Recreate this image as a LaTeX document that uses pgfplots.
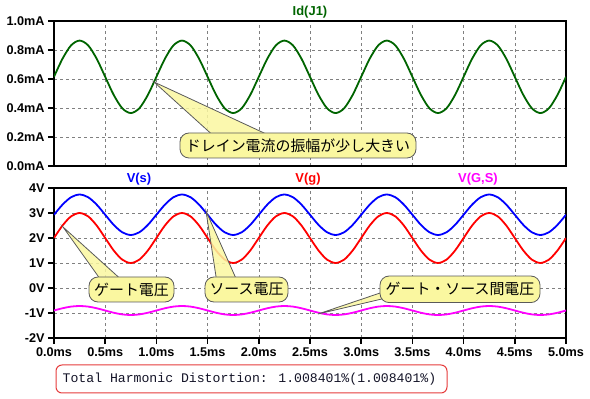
\documentclass[border=0pt]{standalone}
\usepackage{pgfplots}
\pgfplotsset{compat=1.18}
\usepackage{pgfplotstable}
\usepackage{fontspec}
\setmainfont{Liberation Sans}
\newfontfamily\jp{Noto Sans CJK JP}
\newfontfamily\mono{Liberation Mono}
\definecolor{idgreen}{RGB}{0,100,0}
\definecolor{vsblue}{RGB}{0,0,255}
\definecolor{vgred}{RGB}{255,0,0}
\definecolor{vgsmag}{RGB}{255,0,255}
\definecolor{callfill}{RGB}{250,247,160}
\definecolor{callline}{RGB}{90,90,90}
\definecolor{thdred}{RGB}{230,60,60}
\definecolor{thdtext}{RGB}{20,20,40}

\pgfplotstableread{
t id vs vg vgs
0.0000 0.615 2.930 2.000 -0.900
0.0833 0.740 3.335 2.500 -0.810
0.1667 0.832 3.631 2.866 -0.744
0.2500 0.865 3.740 3.000 -0.720
0.3333 0.832 3.631 2.866 -0.744
0.4167 0.740 3.335 2.500 -0.810
0.5000 0.615 2.930 2.000 -0.900
0.5833 0.490 2.525 1.500 -0.990
0.6667 0.398 2.229 1.134 -1.056
0.7500 0.365 2.120 1.000 -1.080
0.8333 0.398 2.229 1.134 -1.056
0.9167 0.490 2.525 1.500 -0.990
1.0000 0.615 2.930 2.000 -0.900
1.0833 0.740 3.335 2.500 -0.810
1.1667 0.832 3.631 2.866 -0.744
1.2500 0.865 3.740 3.000 -0.720
1.3333 0.832 3.631 2.866 -0.744
1.4167 0.740 3.335 2.500 -0.810
1.5000 0.615 2.930 2.000 -0.900
1.5833 0.490 2.525 1.500 -0.990
1.6667 0.398 2.229 1.134 -1.056
1.7500 0.365 2.120 1.000 -1.080
1.8333 0.398 2.229 1.134 -1.056
1.9167 0.490 2.525 1.500 -0.990
2.0000 0.615 2.930 2.000 -0.900
2.0833 0.740 3.335 2.500 -0.810
2.1667 0.832 3.631 2.866 -0.744
2.2500 0.865 3.740 3.000 -0.720
2.3333 0.832 3.631 2.866 -0.744
2.4167 0.740 3.335 2.500 -0.810
2.5000 0.615 2.930 2.000 -0.900
2.5833 0.490 2.525 1.500 -0.990
2.6667 0.398 2.229 1.134 -1.056
2.7500 0.365 2.120 1.000 -1.080
2.8333 0.398 2.229 1.134 -1.056
2.9167 0.490 2.525 1.500 -0.990
3.0000 0.615 2.930 2.000 -0.900
3.0833 0.740 3.335 2.500 -0.810
3.1667 0.832 3.631 2.866 -0.744
3.2500 0.865 3.740 3.000 -0.720
3.3333 0.832 3.631 2.866 -0.744
3.4167 0.740 3.335 2.500 -0.810
3.5000 0.615 2.930 2.000 -0.900
3.5833 0.490 2.525 1.500 -0.990
3.6667 0.398 2.229 1.134 -1.056
3.7500 0.365 2.120 1.000 -1.080
3.8333 0.398 2.229 1.134 -1.056
3.9167 0.490 2.525 1.500 -0.990
4.0000 0.615 2.930 2.000 -0.900
4.0833 0.740 3.335 2.500 -0.810
4.1667 0.832 3.631 2.866 -0.744
4.2500 0.865 3.740 3.000 -0.720
4.3333 0.832 3.631 2.866 -0.744
4.4167 0.740 3.335 2.500 -0.810
4.5000 0.615 2.930 2.000 -0.900
4.5833 0.490 2.525 1.500 -0.990
4.6667 0.398 2.229 1.134 -1.056
4.7500 0.365 2.120 1.000 -1.080
4.8333 0.398 2.229 1.134 -1.056
4.9167 0.490 2.525 1.500 -0.990
5.0000 0.615 2.930 2.000 -0.900
}\wave

\pgfplotsset{
  ltstyle/.style={
    scale only axis, width=512bp,
    anchor=south west,
    xmin=0, xmax=5,
    xtick={0,0.5,1,1.5,2,2.5,3,3.5,4,4.5,5},
    grid=major,
    major grid style={draw=gray, line width=0.6bp, dash pattern=on 3bp off 3bp},
    axis line style={line width=2bp, black},
    tick align=outside,
    major tick length=6bp,
    tick style={black, line width=1.5bp},
    xtick pos=bottom, ytick pos=left,
    tick label style={font=\fontsize{12.7}{14}\selectfont\bfseries},
    every axis plot/.append style={line width=1.8bp, smooth},
  }
}

\tikzset{callbox/.style={draw=callline, line width=0.8bp, fill=callfill,
    rounded corners=9bp, minimum height=25bp, inner sep=0pt,
    font=\jp\fontsize{15}{17}\selectfont}}
\tikzset{calltri/.style={draw=callline, line width=0.8bp, fill=callfill, fill opacity=0.85}}

\begin{document}
\begin{tikzpicture}
\useasboundingbox (0bp,0bp) rectangle (590bp,399bp);

% top axis: Id(J1)
\begin{axis}[ltstyle, at={(54bp,233bp)}, height=145bp,
  ymin=0, ymax=1.0,
  ytick={0,0.2,0.4,0.6,0.8,1.0},
  yticklabels={0.0mA,0.2mA,0.4mA,0.6mA,0.8mA,1.0mA},
  xticklabels={}, x tick style={draw=none}]
\addplot[idgreen] table[x=t, y=id] {\wave};
\end{axis}

% bottom axis: voltages
\begin{axis}[ltstyle, at={(54bp,61bp)}, height=150bp,
  ymin=-2, ymax=4,
  ytick={-2,-1,0,1,2,3,4},
  yticklabels={-2V,-1V,0V,1V,2V,3V,4V},
  xticklabels={0.0ms,0.5ms,1.0ms,1.5ms,2.0ms,2.5ms,3.0ms,3.5ms,4.0ms,4.5ms,5.0ms}]
\addplot[vsblue] table[x=t, y=vs] {\wave};
\addplot[vgred] table[x=t, y=vg] {\wave};
\addplot[vgsmag] table[x=t, y=vgs] {\wave};
\end{axis}

% trace titles
\node[font=\fontsize{13}{15}\selectfont\bfseries, text=idgreen] at (310bp,387bp) {Id(J1)};
\node[font=\fontsize{13}{15}\selectfont\bfseries, text=vsblue] at (139bp,220bp) {V(s)};
\node[font=\fontsize{13}{15}\selectfont\bfseries, text=vgred] at (308bp,220bp) {V(g)};
\node[font=\fontsize{13}{15}\selectfont\bfseries, text=vgsmag] at (478bp,220bp) {V(G,S)};

% callout 1
\path[calltri] (154bp,317bp) -- (217bp,260bp) -- (277bp,260bp) -- cycle;
\node[callbox, minimum width=236bp] at (298bp,253.5bp) {ドレイン電流の振幅が少し大きい};

% callout 2
\path[calltri] (63bp,172bp) -- (103bp,116bp) -- (125bp,116bp) -- cycle;
\node[callbox, minimum width=85bp] at (131.5bp,109.5bp) {ゲート電圧};

% callout 3
\path[calltri] (206bp,188bp) -- (217bp,116bp) -- (238bp,116bp) -- cycle;
\node[callbox, minimum width=83bp] at (246.5bp,109.5bp) {ソース電圧};

% callout 4
\path[calltri] (318bp,85bp) -- (386bp,108bp) -- (386bp,101bp) -- cycle;
\node[callbox, minimum width=160bp, minimum height=26.5bp] at (460bp,109.7bp) {ゲート・ソース間電圧};

% THD box
\draw[thdred, line width=1bp, fill=white, rounded corners=6bp] (56bp,6bp) rectangle (447bp,34bp);
\node[anchor=west, inner sep=0pt, text=thdtext, font=\mono\fontsize{13.2}{15}\selectfont] at (62.5bp,20bp) {Total Harmonic Distortion: 1.008401\%(1.008401\%)};
\end{tikzpicture}
\end{document}
